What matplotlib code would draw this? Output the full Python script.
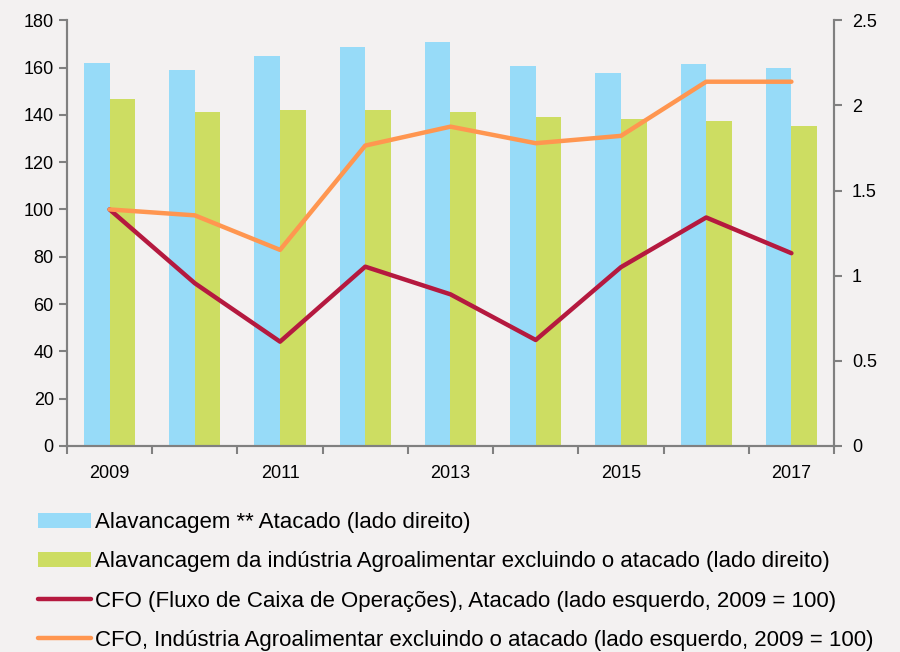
import matplotlib
matplotlib.use("Agg")
import matplotlib.pyplot as plt
import numpy as np

years = [2009, 2010, 2011, 2012, 2013, 2014, 2015, 2016, 2017]
tick_years = ["2009", "", "2011", "", "2013", "", "2015", "", "2017"]

# leverage (right axis)
lev_wholesale = [2.25, 2.21, 2.29, 2.34, 2.37, 2.23, 2.19, 2.24, 2.22]
lev_agrofood = [2.04, 1.96, 1.97, 1.97, 1.96, 1.93, 1.92, 1.91, 1.88]

# CFO index, 2009 = 100 (left axis)
cfo_wholesale = [100, 68.8, 44.1, 75.8, 64.1, 44.8, 75.6, 96.6, 81.5]
cfo_agrofood = [100, 97.5, 82.9, 127.0, 135.0, 128.0, 131.1, 154.0, 154.0]

labels = [
    "Alavancagem ** Atacado (lado direito)",
    "Alavancagem da indústria Agroalimentar excluindo o atacado (lado direito)",
    "CFO (Fluxo de Caixa de Operações), Atacado (lado esquerdo, 2009 = 100)",
    "CFO, Indústria Agroalimentar excluindo o atacado (lado esquerdo, 2009 = 100)",
]

BG = "#F3F1F1"
BLUE = "#97DBF8"
GREEN = "#CDDD62"
RED = "#B5193F"
ORANGE = "#FF9650"
AXC = "#808080"

plt.rcParams["font.family"] = ["Liberation Sans", "DejaVu Sans"]

fig = plt.figure(figsize=(9, 6.52), dpi=100)
fig.patch.set_facecolor(BG)
ax = fig.add_axes([0.0744, 0.316, 0.8523, 0.653])
ax.set_facecolor(BG)
ax2 = ax.twinx()

x = np.arange(len(years))
w = 0.30
b1 = ax2.bar(x - w / 2, lev_wholesale, width=w, color=BLUE, zorder=1)
b2 = ax2.bar(x + w / 2, lev_agrofood, width=w, color=GREEN, zorder=1)
ax2.set_ylim(0, 2.5)
ax2.set_yticks([0, 0.5, 1, 1.5, 2, 2.5])
ax2.set_yticklabels(["0", "0.5", "1", "1.5", "2", "2.5"])

# lines drawn above the bars
ax.set_zorder(ax2.get_zorder() + 1)
ax.patch.set_visible(False)
l1, = ax.plot(x, cfo_wholesale, color=RED, lw=3.2, solid_capstyle="round")
l2, = ax.plot(x, cfo_agrofood, color=ORANGE, lw=3.2, solid_capstyle="round")
ax.set_ylim(0, 180)
ax.set_yticks(range(0, 181, 20))
ax.set_xlim(-0.5, 8.5)

ax.set_xticks(x)
ax.set_xticklabels(tick_years)
ax.set_xticks(np.arange(-0.5, 9, 1), minor=True)
ax.tick_params(axis="x", which="major", length=0, pad=14)
ax.tick_params(axis="x", which="minor", length=6, width=1.5, color=AXC, direction="out")

for a in (ax, ax2):
    for s in a.spines.values():
        s.set_color(AXC)
        s.set_linewidth(1.5)
    a.spines["top"].set_visible(False)
    a.tick_params(axis="y", length=6, width=1.5, color=AXC, labelsize=13, labelcolor="black")
ax.tick_params(axis="x", labelsize=13)
ax2.tick_params(axis="y", pad=7)

fig.legend([b1, b2, l1, l2], labels, loc="upper left",
           bbox_to_anchor=(0.032, 0.228), frameon=False,
           prop={"size": 16},
           handlelength=2.4, handleheight=0.7, handletextpad=0.2,
           labelspacing=0.82, borderaxespad=0)

fig.savefig("out.png", dpi=100, facecolor=BG)
